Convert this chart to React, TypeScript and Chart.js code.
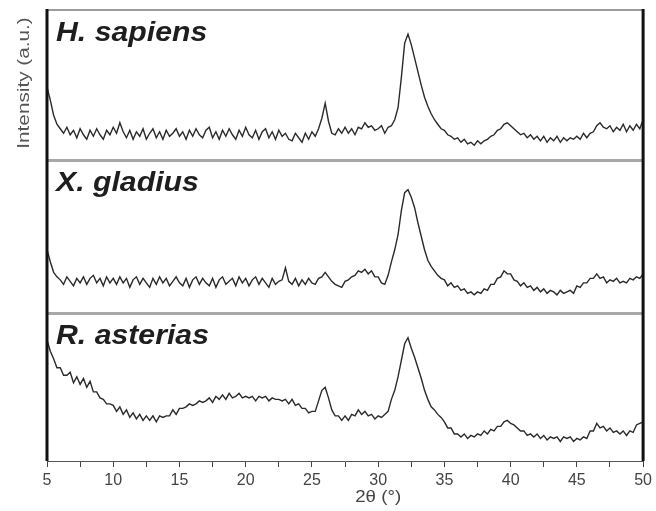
import React, { useEffect, useRef } from "react";
import { Chart, registerables } from "chart.js";

Chart.register(...registerables);

// 2θ grid (degrees), 5 → 50 in 0.25° steps
const angleStart = 5;
const angleStep = 0.25;

const sampleNames = ["H. sapiens", "X. gladius", "R. asterias"];
// vertical offsets (a.u.) used to stack the patterns
const sampleOffsets = [200, 98.5, 0];
// panel separators (a.u.)
const panelBoundaries = [98.5, 200];

const xTickLabels = ["5", "10", "15", "20", "25", "30", "35", "40", "45", "50"];
const xTitle = "2θ (°)";
const yTitle = "Intensity (a.u.)";

const hSapiens = [
  48.6, 40, 30, 24, 21, 18, 22, 17, 20, 15, 21, 17, 14, 20, 16, 21, 17, 14, 20, 17,
  22, 18, 25, 19, 15, 20, 14, 19, 16, 21, 14, 18, 21, 15, 19, 14, 20, 16, 18, 21,
  16, 19, 14, 20, 16, 21, 17, 15, 20, 22, 15, 19, 14, 20, 16, 21, 17, 14, 20, 16,
  22, 17, 15, 20, 14, 19, 21, 15, 19, 14, 20, 16, 18, 14, 13, 18, 15, 12, 18, 14,
  19, 16, 21, 28, 38, 26, 18, 17, 21, 18, 22, 18, 21, 17, 22, 21, 25, 22, 23, 20,
  21, 23, 18, 22, 23, 27, 35, 55, 78, 84, 77, 68, 59, 50, 42, 36, 31, 27, 24, 21,
  20, 17, 16, 14, 15, 12, 14, 11, 12, 10, 13, 11, 13, 14, 16, 17, 20, 21, 24, 25,
  23, 21, 19, 17, 18, 15, 17, 14, 16, 13, 16, 12, 15, 13, 16, 12, 15, 13, 15, 14,
  16, 14, 18, 15, 18, 19, 23, 25, 22, 21, 23, 19, 22, 20, 24, 19, 23, 20, 24, 21,
  27,
];

const xGladius = [
  42, 34, 27, 24, 22, 19, 24, 21, 18, 23, 20, 24, 19, 23, 25, 20, 23, 18, 24, 20,
  23, 19, 24, 20, 23, 17, 22, 24, 19, 23, 20, 17, 23, 19, 24, 20, 23, 18, 21, 24,
  20, 18, 23, 17, 22, 24, 19, 23, 20, 18, 23, 17, 22, 24, 19, 21, 23, 18, 24, 20,
  23, 18, 22, 24, 19, 23, 20, 17, 23, 19, 21, 22, 30, 21, 19, 23, 18, 22, 19, 23,
  20, 19, 23, 24, 27, 24, 21, 19, 18, 17, 21, 22, 24, 25, 28, 27, 29, 26, 28, 24,
  24, 20, 19, 25, 34, 42, 52, 68, 80, 82, 77, 70, 60, 51, 42, 35, 31, 28, 25, 23,
  22, 18, 20, 17, 18, 15, 16, 13, 14, 12, 14, 13, 16, 15, 19, 19, 23, 24, 28, 26,
  26, 22, 21, 18, 20, 17, 18, 15, 17, 14, 16, 13, 15, 14, 12, 15, 13, 14, 15, 13,
  18, 17, 20, 20, 23, 23, 26, 23, 24, 20, 22, 21, 23, 20, 21, 20, 23, 22, 24, 23,
  26,
];

const rAsterias = [
  80.5, 73, 68, 62, 62, 57, 57, 59, 52, 56, 51, 55, 49, 53, 46, 46, 42, 41, 38, 38,
  37, 33, 36, 31, 34, 29, 32, 28, 31, 27, 30, 27, 30, 26, 30, 29, 30, 30, 34, 31,
  35, 35, 36, 38, 37, 38, 40, 39, 40, 42, 39, 43, 41, 44, 41, 45, 42, 43, 45, 42,
  43, 42, 43, 40, 43, 42, 43, 40, 42, 41, 41, 40, 41, 38, 41, 37, 38, 35, 35, 32,
  33, 33, 40, 47, 49, 42, 34, 30, 30, 27, 30, 27, 31, 30, 34, 31, 33, 30, 31, 28,
  30, 29, 31, 33, 41, 47, 56, 67, 78, 82, 75, 69, 62, 55, 47, 41, 36, 34, 31, 29,
  26, 22, 22, 18, 18, 16, 18, 15, 17, 16, 18, 17, 20, 18, 21, 20, 23, 23, 26, 27,
  25, 24, 22, 20, 20, 17, 18, 16, 18, 15, 17, 14, 16, 15, 16, 13, 16, 15, 16, 13,
  15, 14, 16, 15, 20, 20, 25, 22, 23, 20, 22, 19, 20, 18, 20, 17, 20, 19, 24, 25,
  26,
];

const seriesValues = [hSapiens, xGladius, rAsterias];

const FONT = "'Liberation Sans', Arial, Helvetica, sans-serif";

const overlayPlugin = {
  id: "overlay",
  afterDraw(chart: any) {
    const { ctx, chartArea, scales } = chart;
    const { left, right, top, bottom } = chartArea;
    const y = scales.y;
    ctx.save();
    const line = (x1: number, y1: number, x2: number, y2: number) => {
      ctx.beginPath();
      ctx.moveTo(x1, y1);
      ctx.lineTo(x2, y2);
      ctx.stroke();
    };
    // top frame line
    ctx.strokeStyle = "#9c9c9c";
    ctx.lineWidth = 2;
    line(left, top, right, top);
    // separators
    ctx.lineWidth = 3;
    ctx.strokeStyle = "#a8a8a8";
    panelBoundaries.forEach((b) => {
      const py = Math.round(y.getPixelForValue(b)) + 0.5;
      line(left, py, right, py);
    });
    // thick black side frames
    ctx.strokeStyle = "#111";
    ctx.lineWidth = 3;
    line(left, top - 1, left, bottom);
    line(right, top - 1, right, bottom);

    // panel labels
    const tops = [300, ...panelBoundaries.slice().reverse()];
    ctx.fillStyle = "#1e1e1e";
    ctx.textBaseline = "alphabetic";
    ctx.textAlign = "left";
    sampleNames.forEach((name, i) => {
      const pyTop = y.getPixelForValue(tops[i]);
      ctx.save();
      ctx.translate(left + 9, pyTop + 31);
      ctx.scale(1.08, 1);
      ctx.font = `italic bold 28px ${FONT}`;
      ctx.fillText(name, 0, 0);
      ctx.restore();
    });

    // y title
    ctx.save();
    ctx.fillStyle = "#555";
    ctx.translate(left - 18, top + 73);
    ctx.rotate(-Math.PI / 2);
    ctx.scale(1.22, 1);
    ctx.font = `17px ${FONT}`;
    ctx.textAlign = "center";
    ctx.textBaseline = "alphabetic";
    ctx.fillText(yTitle, 0, 0);
    ctx.restore();

    // x title
    ctx.save();
    ctx.fillStyle = "#444";
    ctx.font = `17px ${FONT}`;
    ctx.textAlign = "center";
    ctx.textBaseline = "middle";
    const cx = scales.x.getPixelForValue(30);
    ctx.translate(cx, bottom + 36);
    ctx.scale(1.1, 1);
    ctx.fillText(xTitle, 0, 0);
    ctx.restore();

    ctx.restore();
  },
};

export default function App() {
  const canvasRef = useRef<HTMLCanvasElement | null>(null);

  useEffect(() => {
    const canvas = canvasRef.current;
    if (!canvas) return;
    const datasets = seriesValues.map((vals, si) => ({
      label: sampleNames[si],
      data: vals.map((v, i) => ({ x: angleStart + angleStep * i, y: v + sampleOffsets[si] })),
      borderColor: "#2a2a2a",
      borderWidth: 1.4,
      pointRadius: 0,
      tension: 0,
      fill: false,
    }));
    const chart = new Chart(canvas, {
      type: "line",
      data: { datasets },
      options: {
        animation: false,
        responsive: false,
        maintainAspectRatio: false,
        layout: { padding: { left: 47, right: 11, top: 10, bottom: 0 } },
        plugins: {
          legend: { display: false },
          tooltip: { enabled: false },
        },
        scales: {
          x: {
            type: "linear",
            min: 5,
            max: 50,
            afterFit: (scale: any) => {
              scale.height = 50;
            },
            ticks: {
              stepSize: 2.5,
              autoSkip: false,
              maxRotation: 0,
              padding: 4,
              color: "#444",
              font: { family: FONT, size: 16 },
              callback: (value: any) => {
                const v = Number(value);
                const idx = xTickLabels.indexOf(String(v));
                return idx >= 0 ? xTickLabels[idx] : "";
              },
            },
            grid: {
              drawOnChartArea: false,
              drawTicks: true,
              tickLength: 6,
              color: "#444",
              lineWidth: 1,
            },
            border: { display: true, color: "#555", width: 1 },
          },
          y: {
            type: "linear",
            display: false,
            min: 0,
            max: 300,
          },
        },
      },
      plugins: [overlayPlugin],
    });
    return () => chart.destroy();
  }, []);

  return (
    <div style={{ position: "fixed", left: 0, top: 0, width: 656, height: 511, background: "#fff" }}>
      <canvas ref={canvasRef} width={656} height={511} style={{ width: 656, height: 511 }} />
    </div>
  );
}
